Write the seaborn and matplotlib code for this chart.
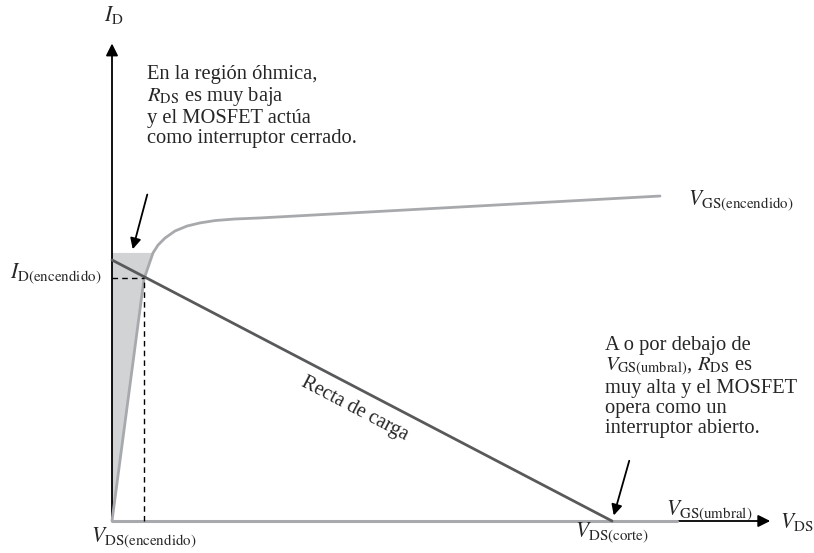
import numpy as np
import pandas as pd
import matplotlib
matplotlib.use("Agg")
import matplotlib.pyplot as plt
import seaborn as sns

# Estilo: fondo blanco, tipografía tipo Times
sns.set_theme(style="white")
plt.rcParams['font.family'] = ['Liberation Serif', 'DejaVu Serif']
plt.rcParams['mathtext.fontset'] = 'stix'

# ====================================================================
# DATOS (unidades arbitrarias)
# ====================================================================
# Curva V_GS(encendido): región óhmica + saturación
vgs_on_vds = [0, 0.64, 0.82, 0.92, 1.06, 1.26, 1.50, 1.76, 2.06, 2.46, 2.96, 10.96]
vgs_on_id = [0, 9.27, 10.27, 10.57, 10.84, 11.11, 11.30, 11.42, 11.51, 11.57, 11.61, 12.45]

# Curva V_GS(umbral): corriente nula
vgs_th_vds = [0, 11.3]
vgs_th_id = [0, 0]

# Recta de carga
recta_vds = [0, 10]
recta_id = [10, 0]

# Punto de trabajo encendido
vds_on = 0.64
id_on = 9.3

# Región sombreada (óhmica)
sombra_vds = [0, 0.64, 0.82, 0]
sombra_id = [0, 9.27, 10.27, 10.27]

gris_curva = '#a7a9ac'
gris_recta = '#58595b'
gris_sombra = '#d1d3d4'

fig = plt.figure(figsize=(8.14, 5.53), dpi=100)
ax = fig.add_axes([0, 0, 1, 1])
ax.set_xlim(-2.24, 14.04)
ax.set_ylim(-1.226, 19.96)
ax.axis('off')

# Región sombreada
ax.fill(sombra_vds, sombra_id, color=gris_sombra, lw=0, zorder=1)

# Ejes con flecha
ax.annotate('', xy=(0, 18.4), xytext=(0, 0),
            arrowprops=dict(arrowstyle='-|>', color='black', lw=1.3, mutation_scale=18), zorder=2)
ax.annotate('', xy=(13.22, 0), xytext=(0, 0),
            arrowprops=dict(arrowstyle='-|>', color='black', lw=1.3, mutation_scale=18), zorder=2)

# Curvas
df_on = pd.DataFrame({'vds': vgs_on_vds, 'id': vgs_on_id})
sns.lineplot(data=df_on, x='vds', y='id', color=gris_curva, lw=2.0, sort=False, ax=ax, zorder=3)
df_th = pd.DataFrame({'vds': vgs_th_vds, 'id': vgs_th_id})
sns.lineplot(data=df_th, x='vds', y='id', color=gris_curva, lw=2.2, sort=False, ax=ax, zorder=3)
df_recta = pd.DataFrame({'vds': recta_vds, 'id': recta_id})
sns.lineplot(data=df_recta, x='vds', y='id', color=gris_recta, lw=2.0, sort=False, ax=ax, zorder=4)

# Líneas discontinuas del punto de trabajo
ax.plot([0, vds_on], [id_on, id_on], color='black', ls=(0, (4, 3)), lw=1.0, zorder=5)
ax.plot([vds_on, vds_on], [0, id_on], color='black', ls=(0, (4, 3)), lw=1.0, zorder=5)

# Etiquetas de ejes y curvas
fs_lab = 15.5
ax.text(-0.16, 19.15, r'$I_{\mathrm{D}}$', fontsize=fs_lab, ha='left', va='baseline')
ax.text(13.36, -0.27, r'$V_{\mathrm{DS}}$', fontsize=fs_lab, ha='left', va='baseline')
ax.text(-2.04, 9.3, r'$I_{\mathrm{D(encendido)}}$', fontsize=fs_lab, ha='left', va='baseline')
ax.text(-0.42, -0.8, r'$V_{\mathrm{DS(encendido)}}$', fontsize=fs_lab, ha='left', va='baseline')
ax.text(9.26, -0.62, r'$V_{\mathrm{DS(corte)}}$', fontsize=fs_lab, ha='left', va='baseline')
ax.text(11.08, 0.23, r'$V_{\mathrm{GS(umbral)}}$', fontsize=fs_lab, ha='left', va='baseline')
ax.text(11.52, 12.1, r'$V_{\mathrm{GS(encendido)}}$', fontsize=fs_lab, ha='left', va='baseline')

ax.text(4.86, 4.3, 'Recta de carga', fontsize=14.5, rotation=-27.6,
        ha='center', va='center', rotation_mode='anchor')

# Anotaciones (va='baseline' alinea la última línea)
fs_txt = 14.8
ax.text(0.70, 14.48,
        'En la región óhmica,\n$R_{\\mathrm{DS}}$ es muy baja\ny el MOSFET actúa\ncomo interruptor cerrado.',
        fontsize=fs_txt, ha='left', va='baseline', linespacing=1.07)
ax.text(9.86, 3.37,
        'A o por debajo de\n$V_{\\mathrm{GS(umbral)}}$, $R_{\\mathrm{DS}}$ es\nmuy alta y el MOSFET\nopera como un\ninterruptor abierto.',
        fontsize=fs_txt, ha='left', va='baseline', linespacing=1.07)

ax.annotate('', xy=(0.40, 10.31), xytext=(0.72, 12.61),
            arrowprops=dict(arrowstyle='-|>', color='black', lw=1.3, mutation_scale=16))
ax.annotate('', xy=(10.02, 0.11), xytext=(10.36, 2.41),
            arrowprops=dict(arrowstyle='-|>', color='black', lw=1.3, mutation_scale=16))

plt.savefig('out.png', dpi=100)
